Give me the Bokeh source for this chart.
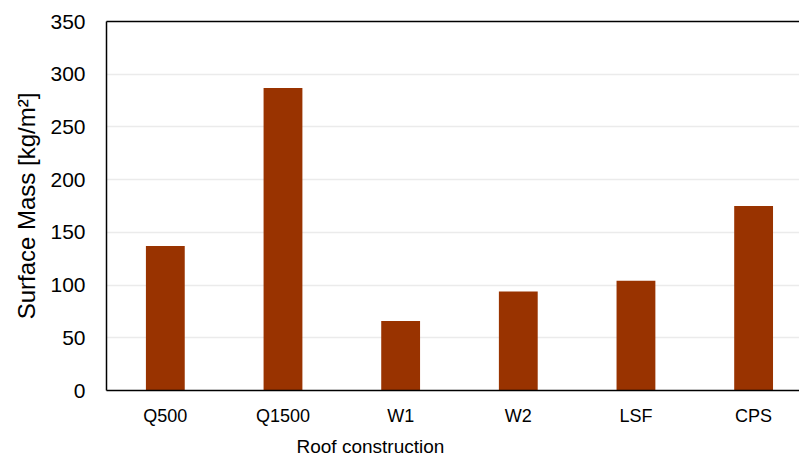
from bokeh.plotting import figure
from bokeh.models import ColumnDataSource, FixedTicker, LinearAxis, Range1d, Title
from bokeh.embed import file_html
from bokeh.resources import INLINE

# Surface mass of each roof construction
constructions = ["Q500", "Q1500", "W1", "W2", "LSF", "CPS"]
surface_mass = [137, 287, 66, 94, 104, 175]
y_ticks = [0, 50, 100, 150, 200, 250, 300, 350]

FONT = "Liberation Sans"
BAR_COLOR = "#993300"

# categories sit at the middle of unit-wide slots
x_pos = [i + 0.5 for i in range(len(constructions))]
src = ColumnDataSource(dict(x=x_pos, mass=surface_mass, name=constructions))

p = figure(width=799, height=461, output_backend="svg", toolbar_location=None,
           x_range=Range1d(0, 5.89), y_range=Range1d(0, 350),
           min_border_left=106, min_border_right=0, min_border_top=21,
           min_border_bottom=71)
p.outline_line_color = None
p.background_fill_color = "white"
p.border_fill_color = "white"

p.vbar(x="x", top="mass", width=0.33, bottom=0, source=src,
       fill_color=BAR_COLOR, line_color=None)

# grid
p.xgrid.visible = False
p.ygrid.grid_line_color = "#ebebeb"
p.ygrid.grid_line_width = 1.5

# y axis
p.yaxis.ticker = FixedTicker(ticks=y_ticks)
p.yaxis.axis_label = "Surface Mass [kg/m²]"
p.yaxis.axis_label_text_font = FONT
p.yaxis.axis_label_text_font_size = "24px"
p.yaxis.axis_label_text_font_style = "normal"
p.yaxis.axis_label_text_color = "black"
p.yaxis.axis_label_standoff = 7
p.yaxis.major_label_text_font = FONT
p.yaxis.major_label_text_font_size = "21px"
p.yaxis.major_label_text_color = "black"
p.yaxis.major_label_standoff = 21
p.yaxis.major_tick_out = 0
p.yaxis.major_tick_in = 0
p.yaxis.major_tick_line_color = None
p.yaxis.minor_tick_line_color = None
p.yaxis.axis_line_color = "black"
p.yaxis.axis_line_width = 1.5

# x axis
p.xaxis.ticker = FixedTicker(ticks=x_pos)
p.xaxis.major_label_overrides = {x: n for x, n in zip(x_pos, constructions)}
p.xaxis.major_label_text_font = FONT
p.xaxis.major_label_text_font_size = "18px"
p.xaxis.major_label_text_color = "black"
p.xaxis.major_label_standoff = 15
p.xaxis.major_tick_out = 0
p.xaxis.major_tick_in = 0
p.xaxis.major_tick_line_color = None
p.xaxis.minor_tick_line_color = None
p.xaxis.axis_line_color = "black"
p.xaxis.axis_line_width = 1.5

# x axis title, placed under the tick labels
x_title = Title(text="Roof construction", align="left", offset=190,
                text_font=FONT, text_font_size="19px", text_font_style="normal",
                text_color="black", standoff=10)
p.add_layout(x_title, "below")

# top frame line
top = LinearAxis(major_label_text_font_size="0px", major_tick_line_color=None,
                 minor_tick_line_color=None, axis_line_color="black",
                 axis_line_width=1.5, major_label_standoff=0,
                 major_tick_out=0, major_tick_in=0)
top.ticker = FixedTicker(ticks=[])
p.add_layout(top, "above")

open("out.html", "w").write(file_html(p, INLINE))
